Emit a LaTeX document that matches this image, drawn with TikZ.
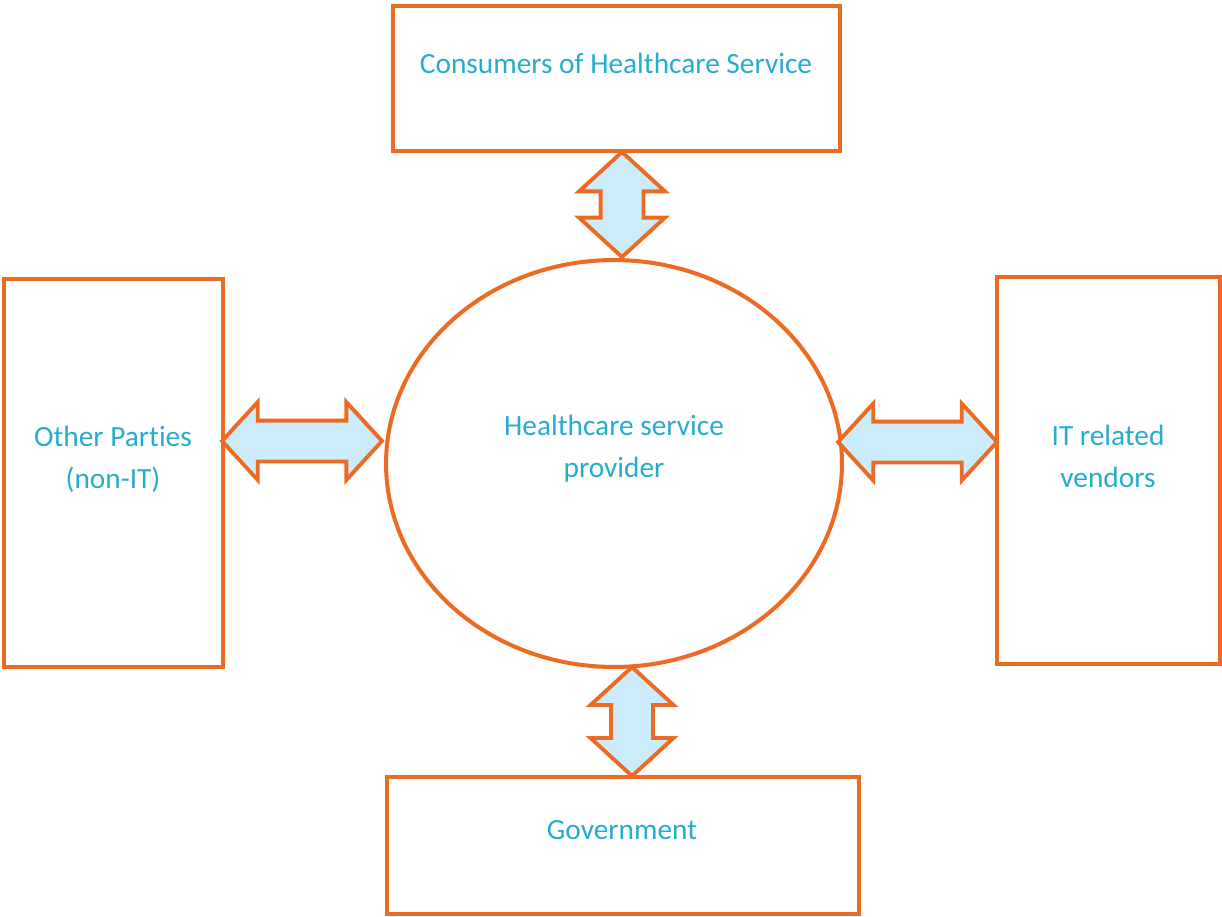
\documentclass[tikz,border=0pt]{standalone}
\usepackage{fontspec}
\setmainfont{Carlito}[Ligatures = NoCommon]
\usetikzlibrary{shapes.geometric, shapes.arrows}
\definecolor{boxorange}{RGB}{237,106,35}
\definecolor{labelblue}{RGB}{38,172,205}
\definecolor{arrowfill}{RGB}{204,236,252}

\begin{document}
\begin{tikzpicture}[
    x = 0.02cm, y = -0.02cm,
    party/.style = {draw = boxorange, line width = 2.6pt, inner sep = 0pt},
    partytext/.style = {text = labelblue, font = \fontsize{16.7}{24}\selectfont, align = center},
    dblarrow/.style = {double arrow, draw = boxorange, fill = arrowfill, line width = 2.2pt,
      inner xsep = 0pt, double arrow tip angle = 95}
  ]
    \useasboundingbox (0, 0) rectangle (1222, 916);
    \node[party, minimum width = 8.94cm, minimum height = 2.9cm] (consumers) at (616.5, 78.5) {};
    \node[party, minimum width = 4.38cm, minimum height = 7.76cm] (other_parties) at (113.5, 473) {};
    \node[party, minimum width = 4.46cm, minimum height = 7.74cm] (it_vendors) at (1108.5, 470.5) {};
    \node[party, minimum width = 9.44cm, minimum height = 2.74cm] (government) at (623, 845.5) {};
    \node[party, ellipse, line width = 2.3pt, minimum width = 9.12cm, minimum height = 8.14cm] (provider) at (614, 463.5) {};
    \node[partytext] (consumers_text) at (616, 63) {Consumers of Healthcare Service};
    \node[partytext] (other_parties_text) at (113, 459) {Other Parties\\(non-IT)};
    \node[partytext] (it_vendors_text) at (1108, 456) {IT related\\vendors};
    \node[partytext] (government_text) at (622, 830) {Government};
    \node[partytext] (provider_text) at (614, 449) {Healthcare service\\provider};
    \node[dblarrow, rotate = 90, minimum height = 2.1cm, inner ysep = 0.39cm,
      double arrow head extend = 0.43cm] (arrow_consumers) at (622, 204.5) {};
    \node[dblarrow, minimum height = 3.2cm, inner ysep = 0.37cm,
      double arrow head extend = 0.37cm] (arrow_other) at (302, 441) {};
    \node[dblarrow, minimum height = 3.18cm, inner ysep = 0.37cm,
      double arrow head extend = 0.36cm] (arrow_it) at (917.5, 442) {};
    \node[dblarrow, rotate = 90, minimum height = 2.18cm, inner ysep = 0.38cm,
      double arrow head extend = 0.41cm] (arrow_government) at (632, 721.5) {};
  \end{tikzpicture}
\end{document}
